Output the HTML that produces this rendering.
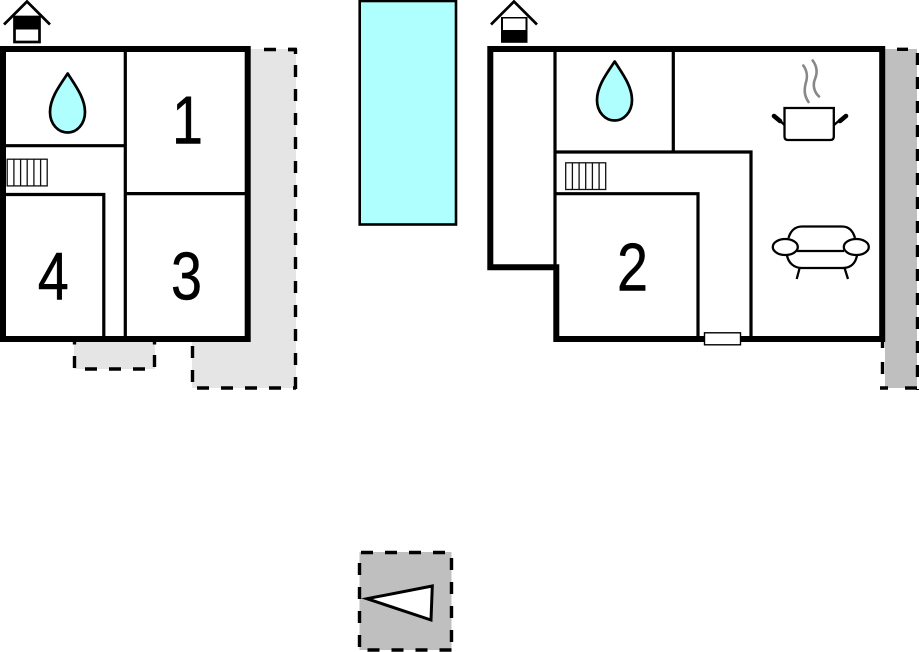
<!DOCTYPE html>
<html>
<head>
<meta charset="utf-8">
<style>
html,body{margin:0;padding:0;background:#fff;}
svg{display:block;}
text{font-family:"Liberation Sans",Arial,sans-serif;font-size:68px;fill:#000;stroke:#000;stroke-width:.5px;text-anchor:middle;}
</style>
</head>
<body>
<svg width="919" height="652" viewBox="0 0 919 652" xmlns="http://www.w3.org/2000/svg">
<rect width="919" height="652" fill="#fff"/>

<!-- left terraces -->
<path d="M250 49H296V388H192V342H250Z" fill="#e5e5e5"/>
<rect x="74" y="342" width="81" height="27" fill="#e5e5e5"/>
<g fill="none" stroke="#000" stroke-width="3.4" stroke-dasharray="12 12">
<path d="M264 49.5H296"/>
<path d="M295.5 65V390"/>
<path d="M197 388H296"/>
<path d="M192.5 346V384"/>
<path d="M74.5 356V368"/>
<path d="M154.5 355V367"/>
<path d="M85 369H146"/>
</g>
<path d="M74.5 342V344.5M154.5 342V344.5M288 49.5H297M295.5 49V54" stroke="#000" stroke-width="3.4" fill="none"/>

<!-- left building -->
<g fill="none" stroke="#000" stroke-width="3.2">
<path d="M125.3 49V339"/>
<path d="M6 145.7H125"/>
<path d="M125 193.6H246"/>
<path d="M6 194.5H103.8V339"/>
</g>
<path d="M3 339V49H247.7V339Z" fill="none" stroke="#000" stroke-width="6"/>

<!-- house icon 1 -->
<rect x="14.5" y="17" width="25" height="25" fill="#fff" stroke="#000" stroke-width="2.7"/>
<rect x="14" y="17" width="26" height="12.5" fill="#000"/>
<path d="M4 24.5L27 1.5L50 24.5" fill="none" stroke="#000" stroke-width="2.7"/>

<!-- drops -->
<path d="M67.7 73.5C60 85 50 98 50 112C50 124 58 132.5 67.7 132.5C77 132.5 85 124 85 112C85 98 75 85 67.7 73.5Z" fill="#b0ffff" stroke="#000" stroke-width="2.7" stroke-linejoin="round"/>
<path d="M614.7 61.5C607 73 597 86 597 100C597 112 605 120.5 614.7 120.5C624 120.5 632 112 632 100C632 86 622 73 614.7 61.5Z" fill="#b0ffff" stroke="#000" stroke-width="2.7" stroke-linejoin="round"/>

<!-- radiators -->
<g fill="none" stroke="#111" stroke-width="1.3">
<rect x="7.2" y="159.2" width="40" height="26.7"/>
<path d="M13.9 159V186M20.6 159V186M27.2 159V186M33.9 159V186M40.6 159V186"/>
<rect x="565.7" y="162.8" width="40" height="26.7"/>
<path d="M572.4 162.5V190M579.1 162.5V190M585.7 162.5V190M592.4 162.5V190M599.1 162.5V190"/>
</g>

<!-- numbers -->
<text transform="translate(187.5 143.4) scale(.82 1)">1</text>
<text transform="translate(186.5 299.4) scale(.82 1)">3</text>
<text transform="translate(53.3 299.4) scale(.82 1)">4</text>
<text transform="translate(632.5 290.7) scale(.82 1)">2</text>

<!-- pool -->
<rect x="359.7" y="1" width="96.3" height="223.5" fill="#b0ffff" stroke="#000" stroke-width="2.6"/>

<!-- right grey -->
<rect x="885" y="49" width="32" height="339" fill="#bfbfbf"/>
<g fill="none" stroke="#000" stroke-width="3.4" stroke-dasharray="12 12">
<path d="M917.5 53V390"/>
<path d="M905 388H919"/>
<path d="M882.5 362V386"/>
</g>
<path d="M880 388H888M882.5 342V348M897 49.3H908" stroke="#000" stroke-width="3.4" fill="none"/>

<!-- right building -->
<g fill="none" stroke="#000" stroke-width="3.2">
<path d="M555 49V266"/>
<path d="M673.3 49V152"/>
<path d="M555 152H751V339"/>
<path d="M555 193.7H698V339"/>
</g>
<path d="M556.3 339V267.2H490.3V49H882.2V339Z" fill="none" stroke="#000" stroke-width="6"/>
<rect x="704.5" y="332.8" width="36" height="12" fill="#fff" stroke="#000" stroke-width="1.4"/>

<!-- house icon 2 -->
<rect x="501" y="17" width="26.5" height="25.8" fill="#000"/>
<rect x="503" y="18.5" width="22.5" height="11.5" fill="#fff"/>
<path d="M491 24.5L514 1.5L537 24.5" fill="none" stroke="#000" stroke-width="2.7"/>

<!-- pot -->
<path d="M784.5 108H833.8V136.5Q833.8 140 830.3 140H788Q784.5 140 784.5 136.5Z" fill="#fff" stroke="#000" stroke-width="2.3"/>
<path d="M774 116L780 121M846 116L840 121" stroke="#000" stroke-width="4.6" stroke-linecap="round" fill="none"/>
<path d="M778 119L784.5 125M841 119L834 125" stroke="#000" stroke-width="2.3" fill="none"/>
<path d="M803.3 65.5C808 72 807.5 78 805.5 84C804 91 804.5 96 808.5 102" fill="none" stroke="#888" stroke-width="2.6" stroke-linecap="round"/>
<path d="M812.7 60.5C817.5 67 817.5 73 815 79C812.5 85 814 92 819 96.5" fill="none" stroke="#888" stroke-width="2.6" stroke-linecap="round"/>

<!-- sofa -->
<g fill="none" stroke="#000" stroke-width="2.3">
<path d="M788.5 238C790.5 231 795 226.5 802 226.5H842C849 226.5 853 231 855 238"/>
<path d="M787 255.5C788.5 263 794 268 802 268H843C851 268 855.5 263 857 255.5"/>
<path d="M797 251H844"/>
<ellipse cx="785.3" cy="247" rx="12.5" ry="8"/>
<ellipse cx="856.3" cy="247" rx="12.5" ry="8"/>
<path d="M799.5 268.5L796.7 279M844.7 268.5L848 279"/>
</g>

<!-- north marker -->
<rect x="359.5" y="552" width="92" height="98" fill="#bfbfbf"/>
<g fill="none" stroke="#000" stroke-width="3.4" stroke-dasharray="12 12">
<path d="M361 552.5H446"/>
<path d="M451.5 558V644"/>
<path d="M359.5 563V648"/>
<path d="M367.5 650H452"/>
</g>
<path d="M367 598.7L432.3 586L431 620Z" fill="#fff" stroke="#000" stroke-width="3"/>
</svg>
</body>
</html>
